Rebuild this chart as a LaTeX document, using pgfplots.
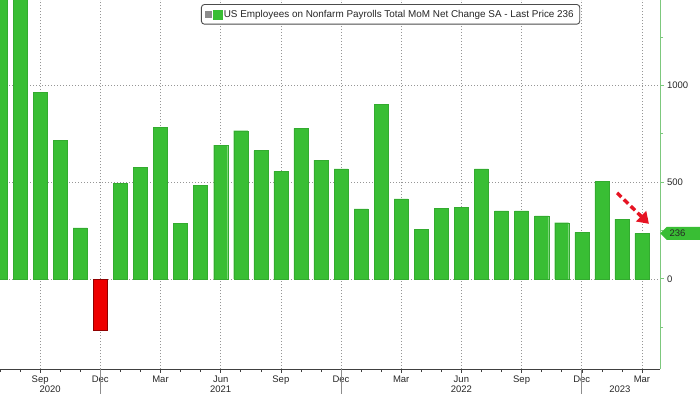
\documentclass[border=0pt]{standalone}
\usepackage{pgfplots}
\pgfplotsset{compat=1.18}
\usepackage{fontspec}
\setmainfont{Liberation Sans}
\usetikzlibrary{arrows.meta,shapes.symbols}
\definecolor{barGreen}{RGB}{57,190,52}
\definecolor{axGreen}{RGB}{125,200,125}
\definecolor{barRed}{RGB}{238,0,0}
\definecolor{arrRed}{RGB}{230,20,35}
\definecolor{gridGray}{RGB}{150,150,150}
\begin{document}
\begin{tikzpicture}
\begin{axis}[
  name=ax,
  scale only axis, width=660pt, height=369pt,
  xmin=0, xmax=32.9, ymin=-466, ymax=1443,
  axis x line*=bottom, axis y line*=right,
  x axis line style={draw=black!75, line width=0.6pt, -},
  y axis line style={draw=axGreen, line width=1pt, -},
  ybar, bar width=0.7, bar shift=0pt,
  xtick={2,5,...,32},
  xticklabels={Sep,Dec,Mar,Jun,Sep,Dec,Mar,Jun,Sep,Dec,Mar},
  minor xtick={0,...,32},
  ytick={0,500,1000},
  minor ytick={-250,250,750,1250},
  tick align=outside,
  major tick length=3.5pt, minor tick length=3pt,
  x tick style={black!75, line width=0.5pt},
  y tick style={axGreen, line width=1pt},
  xmajorgrids, ymajorgrids,
  grid style={gridGray, dash pattern=on 0.8pt off 2.2pt, line width=0.6pt},
  tick label style={font=\fontsize{9.5}{11}\selectfont, text=black!85},
  /pgf/number format/assume math mode=true,
  /pgf/number format/1000 sep={},
  extra y ticks={236}, extra y tick labels={236},
  extra y tick style={ymajorgrids=false, major tick length=0pt,
    yticklabel style={shape=signal, signal to=west, fill=barGreen, text=black!85,
      inner xsep=2pt, inner ysep=1pt, minimum height=13pt, minimum width=42pt,
      text width=30pt, align=left, xshift=0pt}},
  clip mode=individual,
  legend style={at={(rel axis cs:0.3045,0.989)}, anchor=north west,
    draw=black!70, line width=0.9pt, rounded corners=3pt,
    font=\fontsize{9.9}{11}\selectfont, text=black!85,
    inner xsep=4pt, inner ysep=3.5pt},
  legend image code/.code={
    \draw[black!45, line width=0.5pt, sharp corners] (0pt,-3pt) rectangle (6pt,3pt);
    \draw[black!45, line width=0.5pt, sharp corners] (1.5pt,0pt) -- (4.5pt,0pt);
    \fill[barGreen, sharp corners] (7pt,-4.5pt) rectangle (16pt,4.5pt);
  },
]
\addplot[fill=barGreen, draw=barGreen!90!black, line width=0.3pt] coordinates {
 (0,1726) (1,1583) (2,964) (3,717) (4,264)
 (6,495) (7,578) (8,783) (9,286) (10,483) (11,692) (12,767) (13,664)
 (14,557) (15,779) (16,614) (17,569)
 (18,362) (19,904) (20,414) (21,257) (22,364) (23,371) (24,569) (25,352)
 (26,352) (27,326) (28,291) (29,241)
 (30,504) (31,309) (32,236)
};
\addlegendentry{US Employees on Nonfarm Payrolls Total MoM Net Change SA - Last Price 236}
\addplot[fill=barRed, draw=barRed!60!black, line width=0.4pt, forget plot] coordinates {(5,-264)};
\draw[arrRed, line width=3.4pt, dash pattern=on 6pt off 3.5pt,
  -{Triangle[length=11pt,width=14pt]}] (axis cs:30.76,445) -- (axis cs:32.35,285);
\draw[black!45, line width=0.6pt] (axis cs:5,-466) -- ([yshift=-25pt]axis cs:5,-466);
\draw[black!45, line width=0.6pt] (axis cs:17,-466) -- ([yshift=-25pt]axis cs:17,-466);
\draw[black!45, line width=0.6pt] (axis cs:29,-466) -- ([yshift=-25pt]axis cs:29,-466);
\node[font=\fontsize{9.5}{11}\selectfont, text=black!85, anchor=north] at (axis cs:2.5,-466) [yshift=-13pt] {2020};
\node[font=\fontsize{9.5}{11}\selectfont, text=black!85, anchor=north] at (axis cs:11,-466) [yshift=-13pt] {2021};
\node[font=\fontsize{9.5}{11}\selectfont, text=black!85, anchor=north] at (axis cs:23,-466) [yshift=-13pt] {2022};
\node[font=\fontsize{9.5}{11}\selectfont, text=black!85, anchor=north] at (axis cs:30.9,-466) [yshift=-13pt] {2023};
\end{axis}
\pgfresetboundingbox
\path (ax.south west) ++(0pt,-25pt) rectangle ++(700pt,394pt);
\end{tikzpicture}
\end{document}
